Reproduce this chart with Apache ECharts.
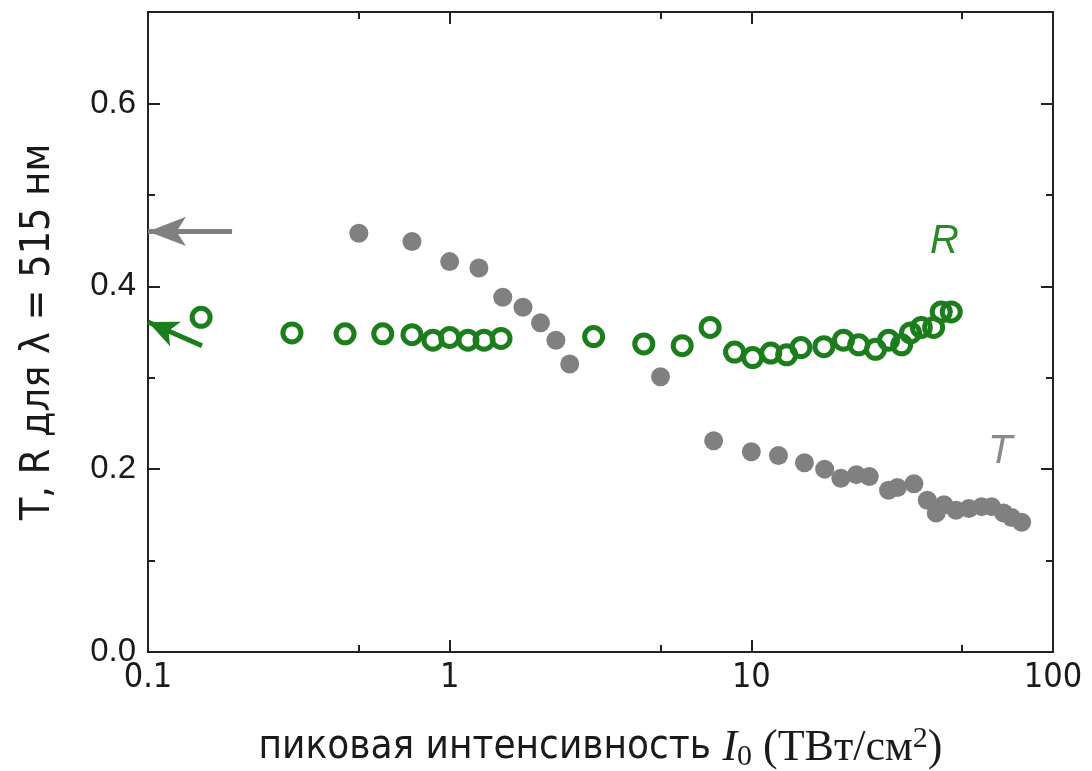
<!DOCTYPE html>
<html>
<head>
<meta charset="utf-8">
<script src="https://cdn.jsdelivr.net/npm/echarts@6/dist/echarts.min.js"></script>
<style>
html,body{margin:0;padding:0;background:#fff;}
#chart{width:1092px;height:771px;}
</style>
</head>
<body>
<div id="chart"></div>
<script>
// ---- data ----
var tX = [0.5, 0.75, 1.0, 1.25, 1.5, 1.75, 2.0, 2.25, 2.5, 5.0, 7.5, 10, 12.3, 15, 17.5, 19.8, 22.3, 24.6, 28.5, 30.5, 34.6, 38.3, 41, 43.5, 47.7, 52.6, 58, 62.6, 68.6, 73, 78.7];
var tY = [0.458, 0.449, 0.427, 0.420, 0.388, 0.377, 0.360, 0.341, 0.315, 0.301, 0.231, 0.219, 0.215, 0.207, 0.200, 0.190, 0.194, 0.192, 0.177, 0.180, 0.184, 0.166, 0.152, 0.161, 0.155, 0.157, 0.159, 0.159, 0.152, 0.147, 0.142];
var rX = [0.15, 0.3, 0.45, 0.6, 0.75, 0.88, 1.0, 1.15, 1.3, 1.48, 3.0, 4.4, 5.9, 7.3, 8.8, 10.1, 11.6, 13.1, 14.6, 17.4, 20.2, 22.7, 25.8, 28.5, 31.5, 33.7, 36.6, 40.2, 42.6, 46];
var rY = [0.366, 0.349, 0.348, 0.348, 0.347, 0.341, 0.344, 0.341, 0.341, 0.343, 0.345, 0.337, 0.335, 0.355, 0.328, 0.322, 0.327, 0.325, 0.333, 0.334, 0.341, 0.336, 0.331, 0.341, 0.336, 0.349, 0.355, 0.355, 0.372, 0.372];
var xMajorTicks = [0.1, 1, 10, 100];
var xMinorTicks = [0.5, 5, 50];
var yMajorTicks = [0, 0.2, 0.4, 0.6];
var yMinorTicks = [0.1, 0.3, 0.5];
// arrows (data coordinates): [tailX, tailY, headX, headY]
var arrowT = [0.19, 0.46, 0.1, 0.46];
var arrowR = [0.151, 0.335, 0.1, 0.361];

var GREEN = '#1b7d1b';
var GRAY = '#808080';
var NARROW = '"Liberation Sans Narrow", "DejaVu Sans Condensed", "Open Sans", sans-serif';
var SERIF = '"Liberation Serif", "DejaVu Serif", serif';
var AX = '#222';

function pairs(xs, ys){ return xs.map(function(x,i){ return [x, ys[i]]; }); }

function xAx(pos, ticks, len, showLine, showLabel){
  return {
    type:'log', logBase:10, min:0.1, max:100, position:pos,
    axisLine:{show:showLine, onZero:false, lineStyle:{color:AX, width:2}},
    axisTick:{show:true, inside:true, length:len, customValues:ticks, lineStyle:{color:AX, width:2}},
    axisLabel:{show:showLabel, customValues:ticks, margin:9, fontSize:34, color:'#1a1a1a', fontFamily:NARROW,
      formatter:function(v){ return String(+v.toPrecision(6)); }},
    splitLine:{show:false}, minorTick:{show:false}
  };
}
function yAx(pos, ticks, len, showLine, showLabel){
  return {
    type:'value', min:0, max:0.7, position:pos,
    axisLine:{show:showLine, onZero:false, lineStyle:{color:AX, width:2}},
    axisTick:{show:true, inside:true, length:len, customValues:ticks, lineStyle:{color:AX, width:2}},
    axisLabel:{show:showLabel, customValues:ticks, margin:12, fontSize:33, color:'#1a1a1a', fontFamily:'"Liberation Sans", Arial, sans-serif',
      formatter:function(v){ return (+v).toFixed(1); }},
    splitLine:{show:false}
  };
}

var xAxes = [xAx('bottom', xMajorTicks, 12, true, true), xAx('bottom', xMinorTicks, 7, false, false),
             xAx('top', xMajorTicks, 12, true, false), xAx('top', xMinorTicks, 7, false, false)];
xAxes[0].name = '{a|пиковая интенсивность }{i|I}{s|0}{b| (ТВт/см}{p|2}{b|)}';
xAxes[0].nameLocation = 'middle';
xAxes[0].nameGap = 72;
xAxes[0].nameTextStyle = {
  color:'#1a1a1a',
  rich:{
    a:{fontFamily:NARROW, fontSize:40, color:'#1a1a1a'},
    i:{fontFamily:SERIF, fontStyle:'italic', fontSize:44, color:'#1a1a1a'},
    s:{fontFamily:SERIF, fontSize:30, color:'#1a1a1a', verticalAlign:'bottom', padding:[18,0,0,0]},
    b:{fontFamily:SERIF, fontSize:44, color:'#1a1a1a'},
    p:{fontFamily:SERIF, fontSize:30, color:'#1a1a1a', verticalAlign:'top', padding:[0,0,18,0]}
  }
};
var yAxes = [yAx('left', yMajorTicks, 12, true, true), yAx('left', yMinorTicks, 7, false, false),
             yAx('right', yMajorTicks, 12, true, false), yAx('right', yMinorTicks, 7, false, false)];
yAxes[0].name = 'T, R для λ = 515 нм';
yAxes[0].nameLocation = 'middle';
yAxes[0].nameGap = 89;
yAxes[0].nameTextStyle = {fontFamily:NARROW, fontSize:41, color:'#1a1a1a'};

var chart = echarts.init(document.getElementById('chart'), null, {renderer:'canvas'});
chart.setOption({
  animation:false,
  backgroundColor:'#fff',
  grid:{left:148, right:39, top:12, bottom:119, containLabel:false, outerBoundsMode:'none'},
  xAxis: xAxes,
  yAxis: yAxes,
  series:[
    {
      name:'T', type:'scatter', xAxisIndex:0, yAxisIndex:0,
      data: pairs(tX, tY), symbol:'circle', symbolSize:19,
      itemStyle:{color:GRAY, opacity:1},
      markLine:{
        silent:true, symbol:['none','arrow'], symbolSize:[22,38], label:{show:false},
        lineStyle:{color:GRAY, width:5, type:'solid'},
        data:[[{coord:[arrowT[0], arrowT[1]]},{coord:[arrowT[2], arrowT[3]]}]]
      }
    },
    {
      name:'R', type:'scatter', xAxisIndex:0, yAxisIndex:0,
      data: pairs(rX, rY), symbol:'circle', symbolSize:18,
      itemStyle:{color:'rgba(0,0,0,0)', borderColor:GREEN, borderWidth:5, opacity:1},
      markLine:{
        silent:true, symbol:['none','arrow'], symbolSize:[20,30], label:{show:false},
        lineStyle:{color:GREEN, width:5, type:'solid'},
        data:[[{coord:[arrowR[0], arrowR[1]]},{coord:[arrowR[2], arrowR[3]]}]]
      }
    }
  ],
  graphic:[
    {type:'text', left:930, top:222, style:{text:'R', font:'italic 40px "Liberation Sans", Arial, sans-serif', fill:'#2a8a2a'}},
    {type:'text', left:988, top:432, style:{text:'T', font:'italic 40px "Liberation Sans", Arial, sans-serif', fill:'#8a8a8a'}}
  ]
});
</script>
</body>
</html>
